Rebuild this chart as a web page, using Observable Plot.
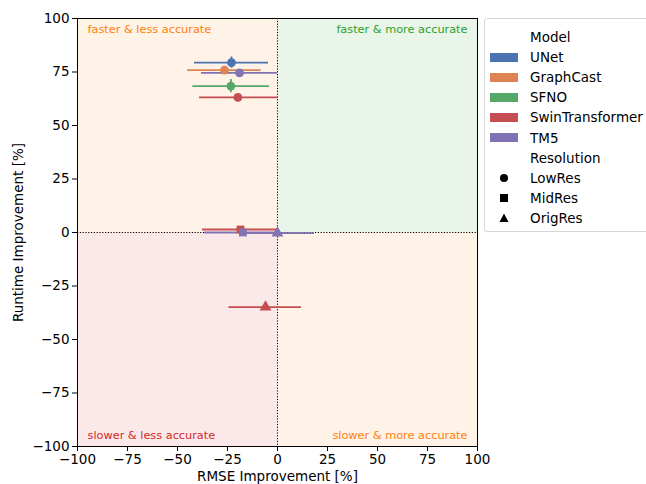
<!DOCTYPE html>
<html><head><meta charset="utf-8">
<script src="https://cdn.jsdelivr.net/npm/d3@7"></script>
<script src="https://cdn.jsdelivr.net/npm/@observablehq/plot@0.6"></script>
<style>
body{margin:0;overflow:hidden;background:#fff;font-family:"DejaVu Sans",sans-serif;}
#wrap{position:relative;width:646px;height:484px;overflow:hidden;}
#legend{position:absolute;left:484px;top:18px;width:175px;height:212px;border:1px solid #d6d6d6;border-radius:3px;background:#fff;font-size:13.5px;color:#000;}
.row{position:absolute;left:0;width:175px;height:20px;line-height:20px;}
.row span{position:absolute;left:45px;white-space:nowrap;}
.row .patch{position:absolute;left:5px;top:5.5px;width:28px;height:9px;}
.row svg{position:absolute;left:12px;top:3px;}
</style></head><body><div id="wrap"><div id="legend"></div></div>
<script>
// Legend / categories
const models = ["UNet", "GraphCast", "SFNO", "SwinTransformer", "TM5"];
const modelColors = ["#4c72b0", "#dd8452", "#55a868", "#c44e52", "#8172b3"];
const resolutions = ["LowRes", "MidRes", "OrigRes"];
const resSymbols = ["circle", "square", "triangle"];

// Points
const pointModel = ["UNet", "GraphCast", "TM5", "SFNO", "SwinTransformer", "SwinTransformer", "TM5", "TM5", "SwinTransformer"];
const pointRes   = ["LowRes", "LowRes", "LowRes", "LowRes", "LowRes", "MidRes", "MidRes", "OrigRes", "OrigRes"];
const rmse       = [-23, -26.5, -19, -23.3, -19.8, -18.5, -17.3, 0, -6];
const rmseLo     = [-41.5, -45, -38, -42.3, -39, -37.5, -36.5, -18, -24.3];
const rmseHi     = [-4.5, -8.2, 0, -4, 0, 0, 0, 18.5, 12];
const runtime    = [79.4, 75.9, 74.6, 68.4, 63.1, 1.4, 0, -0.3, -34.9];
const runtimeErr = [2.6, 0, 0, 3.1, 0, 0, 0, 0, 0];

// Quadrants
const quadLabels = ["faster & less accurate", "faster & more accurate", "slower & less accurate", "slower & more accurate"];
const quadColors = ["#ff7f0e", "#2ca02c", "#d62728", "#ff7f0e"];
const quadX1 = [-100, 0, -100, 0];
const quadX2 = [0, 100, 0, 100];
const quadY1 = [0, 0, -100, -100];
const quadY2 = [100, 100, 0, 0];
const quadTextX = [-95, 95, -95, 95];
const quadTextY = [95, 95, -95, -95];

const xTicks = [-100, -75, -50, -25, 0, 25, 50, 75, 100];
const yTicks = [-100, -75, -50, -25, 0, 25, 50, 75, 100];

const colorOf = m => modelColors[models.indexOf(m)];
const points = pointModel.map((m, i) => ({
  model: m, res: pointRes[i], color: colorOf(m),
  x: rmse[i], lo: rmseLo[i], hi: rmseHi[i],
  y: runtime[i], ylo: runtime[i] - runtimeErr[i], yhi: runtime[i] + runtimeErr[i], yerr: runtimeErr[i]
}));
const quads = quadLabels.map((l, i) => ({
  label: l, color: quadColors[i], x1: quadX1[i], x2: quadX2[i], y1: quadY1[i], y2: quadY2[i],
  tx: quadTextX[i], ty: quadTextY[i], left: quadTextX[i] < 0
}));

const chart = Plot.plot({
  width: 646, height: 484,
  marginLeft: 77, marginRight: 169, marginTop: 18, marginBottom: 38,
  style: {fontFamily: "DejaVu Sans", fontSize: "13.5px", color: "black", background: "transparent"},
  x: {domain: [-100, 100]},
  y: {domain: [-100, 100]},
  symbol: {domain: resolutions, range: resSymbols},
  marks: [
    Plot.rect(quads, {x1: "x1", x2: "x2", y1: "y1", y2: "y2", fill: d => d.color, fillOpacity: 0.1}),
    Plot.text(quads.filter(d => d.left), {x: "tx", y: "ty", text: "label", fill: d => d.color, textAnchor: "start", fontSize: 11.3}),
    Plot.text(quads.filter(d => !d.left), {x: "tx", y: "ty", text: "label", fill: d => d.color, textAnchor: "end", fontSize: 11.3}),
    Plot.ruleX([0], {stroke: "black", strokeWidth: 1, strokeDasharray: "1.2,1.6"}),
    Plot.ruleY([0], {stroke: "black", strokeWidth: 1, strokeDasharray: "1.2,1.6"}),
    Plot.ruleY(points, {y: "y", x1: "lo", x2: "hi", stroke: d => d.color, strokeWidth: 1.8}),
    Plot.ruleX(points.filter(d => d.yerr > 0), {x: "x", y1: "ylo", y2: "yhi", stroke: d => d.color, strokeWidth: 1.8}),
    Plot.dot(points, {x: "x", y: "y", symbol: "res", fill: d => d.color, r: 4.4, stroke: "none"}),
    Plot.frame({stroke: "black", strokeWidth: 1}),
    Plot.axisX({ticks: xTicks, tickFormat: d3.format("d"), tickSize: 5, tickPadding: 3, label: "RMSE Improvement [%]", labelAnchor: "center", labelArrow: "none", labelOffset: 34}),
    Plot.axisY({ticks: yTicks, tickFormat: d3.format("d"), tickSize: 5, tickPadding: 3, label: "Runtime Improvement [%]", labelAnchor: "center", labelArrow: "none", labelOffset: 64})
  ]
});
document.getElementById("wrap").prepend(chart);

// Legend
const legend = document.getElementById("legend");
const symPaths = {
  circle: '<circle cx="7" cy="7" r="4"/>',
  square: '<rect x="3" y="3" width="8" height="8"/>',
  triangle: '<path d="M7 2.5 L11.5 11 L2.5 11 Z"/>'
};
const rows = [];
rows.push({label: "Model"});
models.forEach((m, i) => rows.push({label: m, patch: modelColors[i]}));
rows.push({label: "Resolution"});
resolutions.forEach((r, i) => rows.push({label: r, sym: resSymbols[i]}));
rows.forEach((r, i) => {
  const div = document.createElement("div");
  div.className = "row";
  div.style.top = (8 + i * 20.1) + "px";
  let h = "";
  if (r.patch) h += `<div class="patch" style="background:${r.patch}"></div>`;
  if (r.sym) h += `<svg width="14" height="14" fill="black">${symPaths[r.sym]}</svg>`;
  h += `<span>${r.label}</span>`;
  div.innerHTML = h;
  legend.appendChild(div);
});
</script>
</body></html>
